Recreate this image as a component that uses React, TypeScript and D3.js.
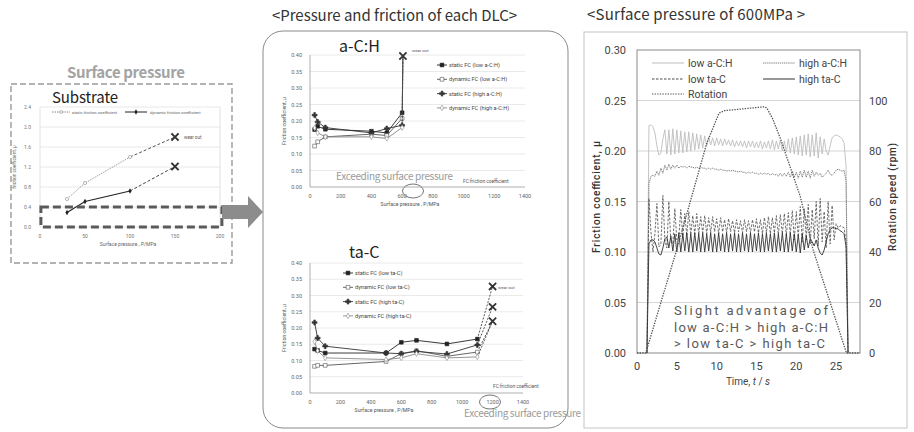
import React, { useEffect, useRef } from 'react';
import * as d3 from 'd3';

// ---------- substrate (left) ----------
const subPressure = [30, 50, 100];
const subStaticFC = [0.56, 0.88, 1.4];
const subDynamicFC = [0.29, 0.51, 0.72];
const subWearPressure = 150;
const subStaticWear = 1.8;
const subDynamicWear = 1.21;
const subXTicks = [0, 50, 100, 150, 200];
const subYTicks = [0, 0.4, 0.8, 1.2, 1.6, 2.0, 2.4];

// ---------- a-C:H ----------
const achPressure = [30, 50, 100, 400, 500, 600];
const achStaticLow = [0.174, 0.184, 0.175, 0.169, 0.164, 0.225];
const achDynamicLow = [0.124, 0.137, 0.152, 0.16, 0.156, 0.208];
const achStaticHigh = [0.218, 0.197, 0.18, 0.164, 0.177, 0.187];
const achDynamicHigh = [0.179, 0.164, 0.152, 0.152, 0.147, 0.18];
const achWearPressure = 605;
const achWearFC = [0.397, 0.397, 0.397, 0.397];

// ---------- ta-C ----------
const tacPressure = [30, 50, 100, 500, 600, 700, 900, 1100];
const tacStaticLow = [0.135, 0.131, 0.123, 0.123, 0.156, 0.162, 0.151, 0.166];
const tacDynamicLow = [0.082, 0.085, 0.085, 0.097, 0.121, 0.13, 0.113, 0.126];
const tacStaticHigh = [0.217, 0.169, 0.144, 0.123, 0.121, 0.128, 0.12, 0.148];
const tacDynamicHigh = [0.158, 0.13, 0.108, 0.103, 0.108, 0.121, 0.108, 0.111];
const tacWearPressure = 1200;
const tacWearFC = [0.328, 0.221, 0.265, 0.221];

const dlcXTicks = [0, 200, 400, 600, 800, 1000, 1200, 1400];
const dlcYTicks = [0, 0.05, 0.1, 0.15, 0.2, 0.25, 0.3, 0.35, 0.4];

// ---------- 600 MPa time trace (right) ----------
const SAMPLE_START = 1.25; // s, logger sampling
const SAMPLE_STEP = 0.25;
const lowAchFC = [
  0, 0.225, 0.226, 0.224, 0.218, 0.205, 0.196, 0.198, 0.212, 0.221,
  0.197, 0.221, 0.196, 0.222, 0.197, 0.221, 0.198, 0.22, 0.198, 0.219,
  0.199, 0.219, 0.2, 0.218, 0.201, 0.217, 0.202, 0.216, 0.203, 0.215,
  0.205, 0.214, 0.206, 0.213, 0.205, 0.213, 0.206, 0.212, 0.205, 0.212,
  0.206, 0.211, 0.205, 0.211, 0.204, 0.21, 0.205, 0.21, 0.204, 0.21,
  0.203, 0.21, 0.204, 0.21, 0.203, 0.209, 0.203, 0.21, 0.202, 0.209,
  0.203, 0.21, 0.202, 0.211, 0.201, 0.21, 0.202, 0.211, 0.2, 0.21,
  0.199, 0.212, 0.198, 0.213, 0.197, 0.214, 0.196, 0.215, 0.195, 0.216,
  0.196, 0.217, 0.194, 0.216, 0.195, 0.218, 0.193, 0.214, 0.197, 0.212,
  0.2, 0.196, 0.205, 0.213, 0.215, 0.216, 0.215, 0.214, 0.212, 0.208,
  0.185, 0,
];
const highAchFC = [
  0, 0.168, 0.175, 0.176, 0.175, 0.18, 0.176, 0.183, 0.178, 0.186,
  0.181, 0.187, 0.182, 0.186, 0.183, 0.186, 0.183, 0.185, 0.184, 0.185,
  0.183, 0.185, 0.184, 0.184, 0.183, 0.184, 0.183, 0.184, 0.183, 0.183,
  0.182, 0.183, 0.182, 0.183, 0.182, 0.182, 0.181, 0.182, 0.181, 0.181,
  0.18, 0.181, 0.18, 0.181, 0.18, 0.18, 0.179, 0.18, 0.179, 0.179,
  0.178, 0.179, 0.178, 0.179, 0.178, 0.178, 0.177, 0.178, 0.177, 0.178,
  0.177, 0.178, 0.176, 0.178, 0.176, 0.177, 0.175, 0.178, 0.175, 0.178,
  0.175, 0.179, 0.174, 0.18, 0.174, 0.179, 0.173, 0.18, 0.174, 0.181,
  0.174, 0.18, 0.173, 0.181, 0.175, 0.179, 0.176, 0.178, 0.174, 0.176,
  0.178, 0.181, 0.177, 0.176, 0.178, 0.181, 0.182, 0.181, 0.18, 0.181,
  0.17, 0,
];
const lowTacFC = [
  0, 0.153, 0.12, 0.1, 0.118, 0.148, 0.105, 0.108, 0.156, 0.112,
  0.104, 0.15, 0.11, 0.108, 0.143, 0.112, 0.115, 0.142, 0.114, 0.138,
  0.116, 0.14, 0.117, 0.136, 0.118, 0.138, 0.117, 0.135, 0.119, 0.136,
  0.118, 0.134, 0.119, 0.135, 0.12, 0.133, 0.118, 0.134, 0.12, 0.132,
  0.119, 0.133, 0.12, 0.131, 0.119, 0.132, 0.12, 0.131, 0.119, 0.132,
  0.12, 0.131, 0.119, 0.132, 0.12, 0.133, 0.119, 0.132, 0.118, 0.134,
  0.119, 0.135, 0.118, 0.134, 0.119, 0.136, 0.117, 0.137, 0.118, 0.138,
  0.116, 0.139, 0.117, 0.141, 0.112, 0.14, 0.115, 0.145, 0.11, 0.143,
  0.112, 0.147, 0.108, 0.142, 0.113, 0.15, 0.106, 0.153, 0.11, 0.14,
  0.104, 0.15, 0.108, 0.146, 0.112, 0.128, 0.124, 0.126, 0.125, 0.124,
  0.11, 0,
];
const highTacFC = [
  0, 0.108, 0.112, 0.112, 0.11, 0.104, 0.098, 0.097, 0.104, 0.113,
  0.115, 0.104, 0.116, 0.101, 0.118, 0.1, 0.119, 0.1, 0.118, 0.101,
  0.119, 0.1, 0.118, 0.1, 0.119, 0.101, 0.118, 0.1, 0.119, 0.1,
  0.118, 0.101, 0.119, 0.1, 0.118, 0.1, 0.119, 0.101, 0.118, 0.1,
  0.119, 0.1, 0.118, 0.101, 0.119, 0.1, 0.118, 0.1, 0.119, 0.101,
  0.118, 0.1, 0.119, 0.1, 0.118, 0.101, 0.119, 0.1, 0.118, 0.1,
  0.119, 0.101, 0.118, 0.1, 0.119, 0.1, 0.118, 0.101, 0.119, 0.1,
  0.118, 0.1, 0.119, 0.101, 0.118, 0.1, 0.117, 0.099, 0.118, 0.102,
  0.116, 0.104, 0.113, 0.11, 0.106, 0.112, 0.104, 0.099, 0.097, 0.102,
  0.11, 0.118, 0.122, 0.124, 0.124, 0.123, 0.123, 0.121, 0.12, 0.118,
  0.105, 0,
];
const rotTime = [0, 1.1, 4.9, 8.75, 10.3, 11, 16, 16.3, 17, 18, 20.5, 22.1, 26.3, 28];
const rotRpm = [0, 0, 40, 83, 95, 96, 97.5, 97, 93, 85, 62, 41, 0, 0];
const timeTicks = [0, 5, 10, 15, 20, 25];
const fcTicks = [0, 0.05, 0.1, 0.15, 0.2, 0.25, 0.3];
const rpmTicks = [0, 20, 40, 60, 80, 100];

const JP = '"Noto Sans CJK JP", "Noto Sans", sans-serif';
const NUM = 'Roboto, "Noto Sans", sans-serif';

function drawX(g, cx, cy, r, w) {
  g.append('path')
    .attr('d', `M${cx - r},${cy - r}L${cx + r},${cy + r}M${cx - r},${cy + r}L${cx + r},${cy - r}`)
    .attr('stroke', '#333').attr('stroke-width', w).attr('fill', 'none');
}

function drawSubstrate(svg) {
  const x = d3.scaleLinear().domain([0, 200]).range([40, 220]);
  const y = d3.scaleLinear().domain([0, 2.4]).range([227, 107]);
  const g = svg.append('g');

  g.append('text').attr('x', 126).attr('y', 78).attr('text-anchor', 'middle')
    .attr('font-family', JP).attr('font-size', 15).attr('font-weight', 'bold')
    .attr('fill', '#a3a3a3').attr('textLength', 118).text('Surface pressure');
  g.append('rect').attr('x', 11).attr('y', 84).attr('width', 221).attr('height', 179)
    .attr('fill', 'none').attr('stroke', '#9a9a9a').attr('stroke-width', 1.4).attr('stroke-dasharray', '6,3');
  g.append('text').attr('x', 52).attr('y', 103).attr('font-family', JP).attr('font-size', 15)
    .attr('fill', '#222').attr('textLength', 66).text('Substrate');

  g.selectAll('.sgrid').data(subYTicks).join('line')
    .attr('x1', x(0)).attr('x2', x(200)).attr('y1', (d) => y(d)).attr('y2', (d) => y(d))
    .attr('stroke', '#e2e2e2').attr('stroke-width', 0.8);
  g.append('line').attr('x1', x(0)).attr('x2', x(0)).attr('y1', y(2.4)).attr('y2', y(0)).attr('stroke', '#e2e2e2');
  g.append('line').attr('x1', x(200)).attr('x2', x(200)).attr('y1', y(2.4)).attr('y2', y(0)).attr('stroke', '#e2e2e2');

  g.selectAll('.sy').data(subYTicks).join('text')
    .attr('x', 31).attr('y', (d) => y(d) + 1.8).attr('text-anchor', 'end')
    .attr('font-family', NUM).attr('font-size', 5).attr('fill', '#777').text((d) => d3.format('.1f')(d));
  g.selectAll('.sx').data(subXTicks).join('text')
    .attr('x', (d) => x(d)).attr('y', 238).attr('text-anchor', 'middle')
    .attr('font-family', NUM).attr('font-size', 5).attr('fill', '#777').text((d) => d);
  g.append('text').attr('x', 128).attr('y', 246).attr('text-anchor', 'middle')
    .attr('font-family', NUM).attr('font-size', 5).attr('fill', '#666').text('Surface pressure , P/MPa');
  g.append('text').attr('transform', 'translate(16,167) rotate(-90)').attr('text-anchor', 'middle')
    .attr('font-family', NUM).attr('font-size', 4.8).attr('fill', '#666').text('friction coefficient, μ');

  const line = d3.line().x((d) => x(d[0])).y((d) => y(d[1]));
  const st = subPressure.map((p, i) => [p, subStaticFC[i]]);
  const dy = subPressure.map((p, i) => [p, subDynamicFC[i]]);
  g.append('path').attr('d', line(st)).attr('fill', 'none').attr('stroke', '#888').attr('stroke-width', 0.8).attr('stroke-dasharray', '1.5,1');
  g.append('path').attr('d', line([st[st.length - 1], [subWearPressure, subStaticWear]]))
    .attr('fill', 'none').attr('stroke', '#555').attr('stroke-width', 1).attr('stroke-dasharray', '3,2');
  g.append('path').attr('d', line(dy)).attr('fill', 'none').attr('stroke', '#222').attr('stroke-width', 1.1);
  g.append('path').attr('d', line([dy[dy.length - 1], [subWearPressure, subDynamicWear]]))
    .attr('fill', 'none').attr('stroke', '#444').attr('stroke-width', 1).attr('stroke-dasharray', '3,2');
  g.selectAll('.sst').data(st).join('circle').attr('cx', (d) => x(d[0])).attr('cy', (d) => y(d[1]))
    .attr('r', 1.6).attr('fill', '#fff').attr('stroke', '#888').attr('stroke-width', 0.6);
  g.selectAll('.sdy').data(dy).join('path')
    .attr('d', d3.symbol().type(d3.symbolDiamond).size(9))
    .attr('transform', (d) => `translate(${x(d[0])},${y(d[1])})`).attr('fill', '#222');
  drawX(g, x(subWearPressure), y(subStaticWear), 3.6, 2);
  drawX(g, x(subWearPressure), y(subDynamicWear), 3.6, 2);
  g.append('text').attr('x', 184).attr('y', 139).attr('font-family', NUM).attr('font-size', 4.5).attr('fill', '#555').text('wear out');

  // legend
  g.append('line').attr('x1', 52).attr('x2', 70).attr('y1', 112).attr('y2', 112).attr('stroke', '#888').attr('stroke-dasharray', '1.5,1');
  g.append('circle').attr('cx', 61).attr('cy', 112).attr('r', 1.4).attr('fill', '#fff').attr('stroke', '#888').attr('stroke-width', 0.6);
  g.append('text').attr('x', 72).attr('y', 113.5).attr('font-family', NUM).attr('font-size', 4.2).attr('fill', '#666').text('static friction coefficient');
  g.append('line').attr('x1', 125).attr('x2', 147).attr('y1', 112).attr('y2', 112).attr('stroke', '#222');
  g.append('path').attr('d', d3.symbol().type(d3.symbolDiamond).size(8)).attr('transform', 'translate(136,112)').attr('fill', '#222');
  g.append('text').attr('x', 150).attr('y', 113.5).attr('font-family', NUM).attr('font-size', 4.2).attr('fill', '#666').text('dynamic friction coefficient');

  // highlighted low-pressure band and arrow
  g.append('rect').attr('x', x(1)).attr('y', y(0.4)).attr('width', 181).attr('height', y(0) - y(0.4))
    .attr('fill', 'none').attr('stroke', '#5a5a5a').attr('stroke-width', 3).attr('stroke-dasharray', '8,4');
  g.append('polygon').attr('points', '222,205 248,205 248,196 263,212 248,228 248,219 222,219').attr('fill', '#8c8c8c');
}

function drawDlc(svg, cfg) {
  const x = d3.scaleLinear().domain([0, 1400]).range(cfg.xRange);
  const y = d3.scaleLinear().domain([0, 0.4]).range(cfg.yRange);
  const g = svg.append('g');

  g.append('text').attr('x', cfg.title[0]).attr('y', cfg.title[1]).attr('font-family', JP)
    .attr('font-size', 16).attr('fill', '#222').text(cfg.name);

  g.selectAll('.grid').data(dlcYTicks.slice(1)).join('line')
    .attr('x1', x(0)).attr('x2', x(1400)).attr('y1', (d) => y(d)).attr('y2', (d) => y(d))
    .attr('stroke', '#e4e4e4').attr('stroke-width', 0.8);
  g.append('line').attr('x1', x(0)).attr('x2', x(1400)).attr('y1', y(0)).attr('y2', y(0)).attr('stroke', '#999').attr('stroke-width', 0.8);
  g.append('line').attr('x1', x(0)).attr('x2', x(0)).attr('y1', y(0)).attr('y2', y(0.4)).attr('stroke', '#999').attr('stroke-width', 0.8);

  g.selectAll('.yl').data(dlcYTicks).join('text')
    .attr('x', x(0) - 8).attr('y', (d) => y(d) + 2).attr('text-anchor', 'end')
    .attr('font-family', NUM).attr('font-size', 5.5).attr('fill', '#666').text((d) => d3.format('.2f')(d));
  g.selectAll('.xl').data(dlcXTicks).join('text')
    .attr('x', (d) => x(d)).attr('y', y(0) + 11).attr('text-anchor', 'middle')
    .attr('font-family', NUM).attr('font-size', 5.5).attr('fill', '#666').text((d) => d);
  g.append('text').attr('x', cfg.xTitleX).attr('y', y(0) + 19).attr('text-anchor', 'middle')
    .attr('font-family', NUM).attr('font-size', 5.2).attr('fill', '#555').text('Surface pressure , P/MPa');
  g.append('text').attr('transform', `translate(${x(0) - 24},${(y(0) + y(0.4)) / 2}) rotate(-90)`).attr('text-anchor', 'middle')
    .attr('font-family', NUM).attr('font-size', 5.2).attr('fill', '#555').text('Friction coefficient, μ');

  const line = d3.line().x((d) => x(d[0])).y((d) => y(d[1]));
  cfg.series.forEach((s, k) => {
    const pts = cfg.pressure.map((p, i) => [p, s.values[i]]);
    g.append('path').attr('d', line([pts[pts.length - 1], [cfg.wearPressure, cfg.wearFC[k]]]))
      .attr('fill', 'none').attr('stroke', '#444').attr('stroke-width', 0.9).attr('stroke-dasharray', '2,1.4');
    g.append('path').attr('d', line(pts)).attr('fill', 'none').attr('stroke', s.color).attr('stroke-width', 0.9);
    g.selectAll(`.m${k}`).data(pts).join('path')
      .attr('d', d3.symbol().type(s.symbol).size(s.size))
      .attr('transform', (d) => `translate(${x(d[0])},${y(d[1])})`)
      .attr('fill', s.open ? '#fff' : s.color).attr('stroke', s.color).attr('stroke-width', 0.6);
    // legend
    const ly = cfg.legend[1] + k * cfg.legendGap;
    g.append('line').attr('x1', cfg.legend[0]).attr('x2', cfg.legend[0] + 10).attr('y1', ly).attr('y2', ly)
      .attr('stroke', s.color).attr('stroke-width', 0.9);
    g.append('path').attr('d', d3.symbol().type(s.symbol).size(s.size))
      .attr('transform', `translate(${cfg.legend[0] + 5},${ly})`)
      .attr('fill', s.open ? '#fff' : s.color).attr('stroke', s.color).attr('stroke-width', 0.6);
    g.append('text').attr('x', cfg.legend[0] + 12).attr('y', ly + 2).attr('font-family', NUM)
      .attr('font-size', 5.6).attr('fill', '#444').text(s.label);
  });
  Array.from(new Set(cfg.wearFC)).forEach((v) => drawX(g, x(cfg.wearPressure), y(v), 3.6, 1.8));
  g.append('text').attr('x', cfg.wearText[0]).attr('y', cfg.wearText[1]).attr('font-family', NUM)
    .attr('font-size', 4.3).attr('fill', '#555').text('wear out');
  g.append('text').attr('x', cfg.fcNote[0]).attr('y', cfg.fcNote[1]).attr('font-family', NUM)
    .attr('font-size', 4.8).attr('fill', '#555').text('FC:friction coefficient');
  g.append('text').attr('x', cfg.exceed[0]).attr('y', cfg.exceed[1]).attr('font-family', JP)
    .attr('font-size', 10).attr('fill', '#9a9a9a').attr('textLength', 117).text('Exceeding surface pressure');
  g.append('ellipse').attr('cx', cfg.ring[0]).attr('cy', cfg.ring[1]).attr('rx', 10.5).attr('ry', 7)
    .attr('fill', 'none').attr('stroke', '#666').attr('stroke-width', 0.9);
}

function drawTrace(svg) {
  const x = d3.scaleLinear().domain([0, 28]).range([637, 860]);
  const y = d3.scaleLinear().domain([0, 0.3]).range([353, 50]);
  const yr = d3.scaleLinear().domain([0, 120]).range([353, 50]);
  const g = svg.append('g');

  g.append('text').attr('x', 587).attr('y', 20).attr('font-family', JP).attr('font-size', 15)
    .attr('fill', '#333').attr('textLength', 218).text('<Surface pressure of 600MPa >');
  g.append('rect').attr('x', 584).attr('y', 32).attr('width', 323).attr('height', 396)
    .attr('fill', 'none').attr('stroke', '#c4c4c4');

  g.selectAll('.tg').data(fcTicks.slice(1, -1)).join('line')
    .attr('x1', x(0)).attr('x2', x(28)).attr('y1', (d) => y(d)).attr('y2', (d) => y(d))
    .attr('stroke', '#d6d6d6').attr('stroke-width', 1);
  g.append('rect').attr('x', x(0)).attr('y', y(0.3)).attr('width', x(28) - x(0)).attr('height', y(0) - y(0.3))
    .attr('fill', 'none').attr('stroke', '#8a8a8a').attr('stroke-width', 1);

  g.selectAll('.tyl').data(fcTicks).join('text')
    .attr('x', 626).attr('y', (d) => y(d) + 4).attr('text-anchor', 'end')
    .attr('font-family', NUM).attr('font-size', 11).attr('fill', '#444').text((d) => d3.format('.2f')(d));
  g.selectAll('.tyr').data(rpmTicks).join('text')
    .attr('x', 869).attr('y', (d) => yr(d) + 4)
    .attr('font-family', NUM).attr('font-size', 11).attr('fill', '#444').text((d) => d);
  g.selectAll('.txl').data(timeTicks).join('text')
    .attr('x', (d) => x(d)).attr('y', 370).attr('text-anchor', 'middle')
    .attr('font-family', NUM).attr('font-size', 11).attr('fill', '#444').text((d) => d);
  const tt = g.append('text').attr('x', 748).attr('y', 385).attr('text-anchor', 'middle')
    .attr('font-family', NUM).attr('font-size', 10).attr('fill', '#444');
  tt.append('tspan').text('Time, ');
  tt.append('tspan').attr('font-style', 'italic').text('t');
  tt.append('tspan').text(' / ');
  tt.append('tspan').attr('font-style', 'italic').text('s');
  g.append('text').attr('transform', 'translate(600,197) rotate(-90)').attr('text-anchor', 'middle')
    .attr('font-family', NUM).attr('font-size', 10).attr('font-weight', 500).attr('fill', '#333')
    .attr('textLength', 112).text('Friction coefficient, μ');
  g.append('text').attr('transform', 'translate(896,197) rotate(-90)').attr('text-anchor', 'middle')
    .attr('font-family', NUM).attr('font-size', 10).attr('font-weight', 500).attr('fill', '#333')
    .attr('textLength', 108).text('Rotation speed (rpm)');

  const series = [
    { label: 'low a-C:H', values: lowAchFC, color: '#bdbdbd', dash: null, w: 0.9 },
    { label: 'high a-C:H', values: highAchFC, color: '#7e7e7e', dash: '1.3,0.8', w: 1 },
    { label: 'low ta-C', values: lowTacFC, color: '#4a4a4a', dash: '2.5,1.5', w: 0.8 },
    { label: 'high ta-C', values: highTacFC, color: '#333', dash: null, w: 0.9 },
  ];
  const line = d3.line().x((d) => x(d[0])).y((d) => y(d[1]));
  series.forEach((s) => {
    const pts = s.values.map((v, i) => [SAMPLE_START + i * SAMPLE_STEP, v]);
    g.append('path').attr('d', line(pts)).attr('fill', 'none').attr('stroke', s.color)
      .attr('stroke-width', s.w).attr('stroke-dasharray', s.dash);
  });
  const rotLine = d3.line().x((d) => x(d[0])).y((d) => yr(d[1]));
  g.append('path').attr('d', rotLine(rotTime.map((t, i) => [t, rotRpm[i]])))
    .attr('fill', 'none').attr('stroke', '#555').attr('stroke-width', 1.3).attr('stroke-dasharray', '1.4,1.2');

  // legend
  const legend = [
    { label: 'low a-C:H', color: '#bdbdbd', dash: null, lx: 652, ly: 63 },
    { label: 'high a-C:H', color: '#7e7e7e', dash: '1.3,0.8', lx: 763, ly: 63 },
    { label: 'low ta-C', color: '#4a4a4a', dash: '2.5,1.5', lx: 652, ly: 79 },
    { label: 'high ta-C', color: '#333', dash: null, lx: 763, ly: 79 },
    { label: 'Rotation', color: '#555', dash: '1.4,1.2', lx: 652, ly: 94 },
  ];
  legend.forEach((l) => {
    g.append('line').attr('x1', l.lx).attr('x2', l.lx + 32).attr('y1', l.ly).attr('y2', l.ly)
      .attr('stroke', l.color).attr('stroke-width', 1).attr('stroke-dasharray', l.dash);
    g.append('text').attr('x', l.lx + 36).attr('y', l.ly + 4).attr('font-family', NUM)
      .attr('font-size', 10.5).attr('fill', '#444').text(l.label);
  });

  const note = ['Slight advantage of', 'low a-C:H > high a-C:H', '> low ta-C > high ta-C'];
  note.forEach((t, i) => {
    g.append('text').attr('x', 674).attr('y', 315 + i * 16.5).attr('font-family', NUM)
      .attr('font-size', 13).attr('fill', '#5a5a5a').attr('textLength', i === 2 ? 151 : 154)
      .attr('lengthAdjust', 'spacing').text(t);
  });
}

export default function App() {
  const ref = useRef(null);

  useEffect(() => {
    const svg = d3.select(ref.current);
    svg.selectAll('*').remove();
    svg.append('rect').attr('width', 914).attr('height', 432).attr('fill', '#fff');

    drawSubstrate(svg);

    // middle panel frame and title
    svg.append('text').attr('x', 272).attr('y', 21).attr('font-family', JP).attr('font-size', 15)
      .attr('fill', '#333').attr('textLength', 245).text('<Pressure and friction of each DLC>');
    svg.append('rect').attr('x', 263).attr('y', 31).attr('width', 305).attr('height', 397).attr('rx', 20)
      .attr('fill', 'none').attr('stroke', '#8a8a8a').attr('stroke-width', 1);

    drawDlc(svg, {
      name: 'a-C:H', title: [339, 52], xRange: [310, 525], yRange: [187, 55], xTitleX: 410,
      pressure: achPressure, wearPressure: achWearPressure, wearFC: achWearFC,
      series: [
        { label: 'static FC (low a-C:H)', values: achStaticLow, color: '#222', symbol: d3.symbolSquare, size: 14, open: false },
        { label: 'dynamic FC (low a-C:H)', values: achDynamicLow, color: '#555', symbol: d3.symbolSquare, size: 14, open: true },
        { label: 'static FC (high a-C:H)', values: achStaticHigh, color: '#333', symbol: d3.symbolCross, size: 14, open: false },
        { label: 'dynamic FC (high a-C:H)', values: achDynamicHigh, color: '#888', symbol: d3.symbolDiamond, size: 9, open: true },
      ],
      legend: [437, 65], legendGap: 14.3, wearText: [412, 52], fcNote: [463, 183],
      exceed: [336, 180], ring: [413, 191],
    });
    drawDlc(svg, {
      name: 'ta-C', title: [349, 258], xRange: [310, 523], yRange: [393, 263], xTitleX: 384,
      pressure: tacPressure, wearPressure: tacWearPressure, wearFC: tacWearFC,
      series: [
        { label: 'static FC (low ta-C)', values: tacStaticLow, color: '#222', symbol: d3.symbolSquare, size: 14, open: false },
        { label: 'dynamic FC (low ta-C)', values: tacDynamicLow, color: '#555', symbol: d3.symbolSquare, size: 14, open: true },
        { label: 'static FC (high ta-C)', values: tacStaticHigh, color: '#333', symbol: d3.symbolCross, size: 14, open: false },
        { label: 'dynamic FC (high ta-C)', values: tacDynamicHigh, color: '#888', symbol: d3.symbolDiamond, size: 9, open: true },
      ],
      legend: [343, 273], legendGap: 14.3, wearText: [498, 289], fcNote: [493, 388],
      exceed: [464, 417], ring: [490, 402],
    });

    drawTrace(svg);
  }, []);

  return (
    <svg ref={ref} width={914} height={432} style={{ position: 'absolute', left: 0, top: 0 }} />
  );
}
